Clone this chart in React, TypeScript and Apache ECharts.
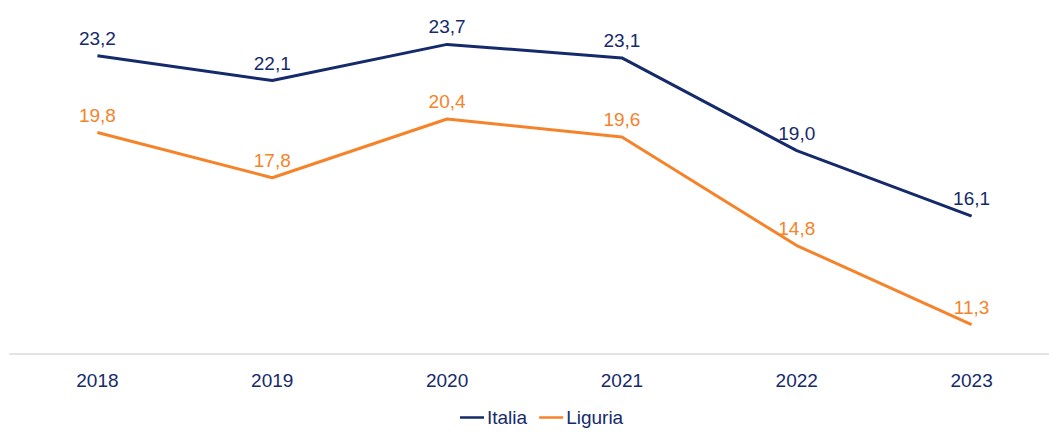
import React, { useEffect, useRef } from "react";
import * as echarts from "echarts";

const years = ["2018", "2019", "2020", "2021", "2022", "2023"];
const italia = [23.2, 22.1, 23.7, 23.1, 19.0, 16.1];
const liguria = [19.8, 17.8, 20.4, 19.6, 14.8, 11.3];

const NAVY = "#152a6b";
const ORANGE = "#f5832a";
const FONT = "'Liberation Sans', Arial, sans-serif";
const FS = 19;

export default function App() {
  const ref = useRef<HTMLDivElement>(null);
  useEffect(() => {
    document.body.style.margin = "0";
    const chart = echarts.init(ref.current!, null, { renderer: "svg" });
    const fmt = (p: any) => Number(p.value).toFixed(1).replace(".", ",");
    chart.setOption({
      animation: false,
      textStyle: { fontFamily: FONT },
      grid: { left: 10, right: 1, top: 15, bottom: 78, containLabel: false },
      legend: {
        bottom: 0,
        left: 455,
        icon: "rect",
        itemWidth: 24,
        itemHeight: 2.5,
        itemGap: 12,
        textStyle: { fontFamily: FONT, fontSize: FS, color: NAVY, padding: [0, 0, 0, -2] },
        data: ["Italia", "Liguria"],
      },
      xAxis: {
        type: "category",
        data: years,
        boundaryGap: true,
        axisLine: { lineStyle: { color: "#e3e3e3", width: 2 } },
        axisTick: { show: false },
        axisLabel: { fontFamily: FONT, fontSize: FS, color: NAVY, margin: 17 },
      },
      yAxis: {
        type: "value",
        min: 10,
        max: 25,
        show: false,
        splitLine: { show: false },
      },
      series: [
        {
          name: "Italia",
          type: "line",
          data: italia,
          symbol: "circle",
          symbolSize: 0,
          itemStyle: { color: NAVY },
          lineStyle: { color: NAVY, width: 3 },
          label: { show: true, position: "top", distance: 8, formatter: fmt, fontFamily: FONT, fontSize: FS, color: NAVY },
        },
        {
          name: "Liguria",
          type: "line",
          data: liguria,
          symbol: "circle",
          symbolSize: 0,
          itemStyle: { color: ORANGE },
          lineStyle: { color: ORANGE, width: 3 },
          label: { show: true, position: "top", distance: 8, formatter: fmt, fontFamily: FONT, fontSize: FS, color: ORANGE },
        },
      ],
    });
    return () => chart.dispose();
  }, []);
  return (
    <div style={{ width: 1049, height: 432, overflow: "hidden" }}>
      <div ref={ref} style={{ width: 1060, height: 432 }} />
    </div>
  );
}
